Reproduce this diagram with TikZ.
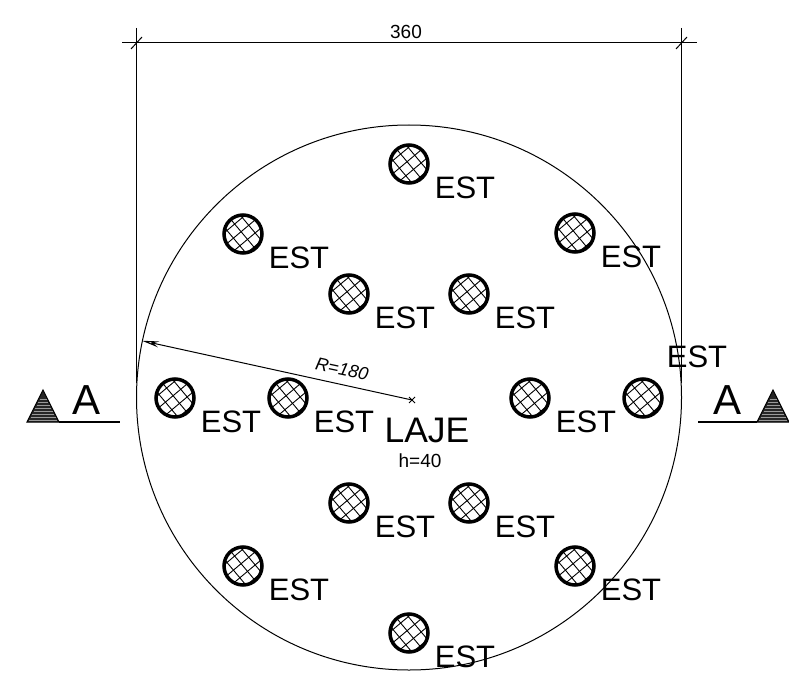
\documentclass[tikz,border=0pt]{standalone}
\usepackage{fontspec}
\setmainfont{Liberation Sans}
\usetikzlibrary{arrows.meta}
\tikzset{
  thinline/.style={line width=1pt},
  hatchline/.style={line width=0.9pt},
  column/.style={circle,draw,line width=3.5pt,minimum size=38pt,inner sep=0pt,
    path picture={
      \begin{scope}[shift={(path picture bounding box.center)},x={(0.766pt,0.643pt)},y={(-0.643pt,0.766pt)}]
        \foreach \d in {-20,-10,...,20} {
          \draw[hatchline] (\d,-25) -- (\d,25);
          \draw[hatchline] (-25,\d+3) -- (25,\d+3);
        }
      \end{scope}
    }},
  estlabel/.style={inner sep=0pt,font=\fontsize{31}{31}\selectfont},
  seclabel/.style={inner sep=0pt,font=\fontsize{42}{42}\selectfont},
  dimlabel/.style={inner sep=0pt,font=\fontsize{19}{19}\selectfont},
}
\newcommand{\secmark}[1]{%
  \fill[black!85] (#1,422) -- ++(32,0) -- ++(-16,-32) -- cycle;
  \draw[thinline] (#1,422) -- ++(32,0) -- ++(-16,-32) -- cycle;
  \foreach \h in {2,5,...,23} {
    \draw[white!60!black,line width=0.6pt] ({#1+\h/2+1},{422-\h}) -- ({#1+31-\h/2},{422-\h});
  }
}
\begin{document}
\begin{tikzpicture}[x=1pt,y=-1pt]
  \useasboundingbox (0,0) rectangle (789,679);

  % laje
  \node[circle,draw,thinline,minimum size=545pt,inner sep=0pt] (slab) at (409,397.5) {};

  % cotas
  \coordinate (dimL) at (136,43);
  \coordinate (dimR) at (681,43);
  \draw[thinline] (122,43) -- (697,43);
  \draw[thinline] (136,28) -- (136,383);
  \draw[thinline] (681,28) -- (681,383);
  \draw[thinline] (131,49) -- (142,37);
  \draw[thinline] (676,49) -- (687,37);
  \node[dimlabel] (dimtext) at (406,32) {360};

  % raio
  \coordinate (mark) at (412,400);
  \draw[thinline,-{Stealth[length=17pt,width=6pt,open]}] (mark) -- (slab.168.5);
  \draw[thinline] (409,397) -- (415,403) (409,403) -- (415,397);
  \node[dimlabel,rotate=-12,font=\fontsize{18}{18}\selectfont\itshape] (radius) at (342,369) {R=180};

  % estacas
  \foreach \n/\x/\y in {a/409/164,b/243/234,c/575/233,d/349/294,e/469/294,f/175/398,
    g/288/398,h/530/398,j/349/503,k/469/503,m/243/566,n/575/566,p/409/633} {
    \node[column] (col\n) at (\x,\y) {};
    \node[estlabel] (est\n) at (\x+56,\y+24) {EST};
  }
  \node[column] (colq) at (643,398) {};
  \node[estlabel] (estq) at (697,357) {EST};

  % texto central
  \node[inner sep=0pt,font=\fontsize{35.5}{35.5}\selectfont] (slabname) at (427,430) {LAJE};
  \node[dimlabel] (slabh) at (420,461) {h=40};

  % corte A
  \secmark{27}
  \secmark{757}
  \coordinate (secL) at (59,422);
  \coordinate (secR) at (757,422);
  \draw[line width=1.5pt] (secL) -- (120,422);
  \draw[line width=1.5pt] (698,422) -- (secR);
  \node[seclabel] (secA) at (87,400) {A};
  \node[seclabel] (secB) at (727,400) {A};
\end{tikzpicture}
\end{document}
